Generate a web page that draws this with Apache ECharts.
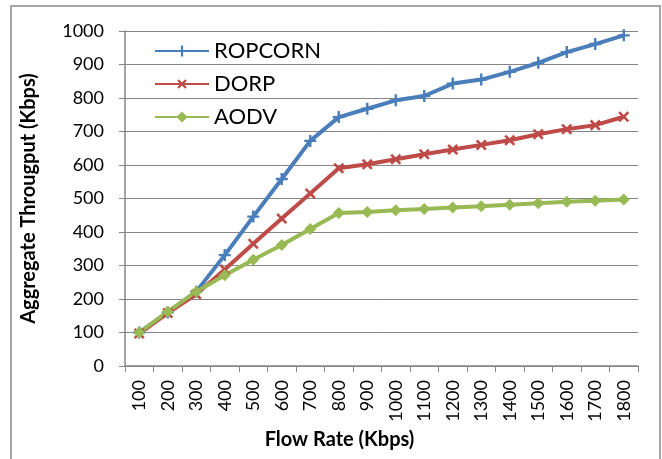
<!DOCTYPE html>
<html>
<head>
<meta charset="utf-8">
<script src="https://cdn.jsdelivr.net/npm/echarts@6/dist/echarts.min.js"></script>
<style>
  html, body { margin: 0; padding: 0; background: #fff; }
  #chart { width: 662px; height: 459px; }
</style>
</head>
<body>
<div id="chart"></div>
<script>
// flow rate categories (Kbps)
var flowRates = ['100', '200', '300', '400', '500', '600', '700', '800', '900', '1000',
                 '1100', '1200', '1300', '1400', '1500', '1600', '1700', '1800'];

var ropcorn = [100, 160, 222, 331, 446, 558, 672, 743, 768, 793, 806, 843, 855, 878, 905, 937, 961, 987];
var dorp    = [97, 158, 214, 288, 365, 440, 515, 590, 602, 617, 632, 646, 660, 674, 692, 707, 719, 744];
var aodv    = [100, 162, 222, 271, 317, 361, 409, 457, 460, 465, 469, 473, 477, 481, 486, 490, 493, 497];

var yTicks = [0, 1000, 100];

var font = 'Lato';
var plusPath = 'path://M4,0H6V4H10V6H6V10H4V6H0V4H4Z';

var chart = echarts.init(document.getElementById('chart'));

function mkSeries(name, data, color, symbol, size, rot) {
    return {
        name: name,
        type: 'line',
        data: data,
        symbol: symbol,
        symbolSize: size,
        symbolRotate: rot || 0,
        showAllSymbol: true,
        lineStyle: { color: color, width: 4 },
        itemStyle: { color: color },
        emphasis: { disabled: true },
        animation: false
    };
}

var option = {
    backgroundColor: '#fff',
    animation: false,
    graphic: [{
        type: 'rect',
        shape: { x: 11, y: 6, width: 649, height: 470 },
        style: { fill: 'none', stroke: '#a6a6a6', lineWidth: 2 },
        silent: true
    }],
    legend: {
        orient: 'vertical',
        left: 149,
        top: 35,
        itemWidth: 54,
        itemHeight: 14,
        itemGap: 11,
        textStyle: { fontFamily: font, fontSize: 22, color: '#000', lineHeight: 20 },
        data: ['ROPCORN', 'DORP', 'AODV']
    },
    grid: { left: 125, top: 31, right: 24, bottom: 93 },
    xAxis: {
        type: 'category',
        data: flowRates,
        boundaryGap: true,
        name: 'Flow Rate (Kbps)',
        nameLocation: 'middle',
        nameGap: 64,
        nameTextStyle: { fontFamily: font, fontSize: 20, fontWeight: 'bold', color: '#000', padding: [0, 84, 0, 0] },
        axisLine: { lineStyle: { color: '#868686', width: 1.5 } },
        axisTick: { show: true, length: 6, lineStyle: { color: '#868686' } },
        axisLabel: { rotate: 90, margin: 14, fontFamily: font, fontSize: 18, color: '#000', interval: 0 },
        splitLine: { show: false }
    },
    yAxis: {
        type: 'value',
        min: yTicks[0],
        max: yTicks[1],
        interval: yTicks[2],
        name: 'Aggregate Througput (Kbps)',
        nameLocation: 'middle',
        nameGap: 86,
        nameRotate: 90,
        nameTextStyle: { fontFamily: font, fontSize: 20, fontWeight: 'bold', color: '#000' },
        axisLine: { show: true, lineStyle: { color: '#868686', width: 1.5 } },
        axisTick: { show: true, length: 6, lineStyle: { color: '#868686' } },
        axisLabel: { margin: 21, fontFamily: font, fontSize: 18, color: '#000', formatter: function (v) { return String(v); } },
        splitLine: { lineStyle: { color: '#868686', width: 1 } }
    },
    series: [
        mkSeries('ROPCORN', ropcorn, '#4a7ebb', plusPath, 12),
        mkSeries('DORP', dorp, '#be4b48', plusPath, 13, 45),
        mkSeries('AODV', aodv, '#98b954', 'diamond', 12)
    ]
};

chart.setOption(option);
</script>
</body>
</html>
